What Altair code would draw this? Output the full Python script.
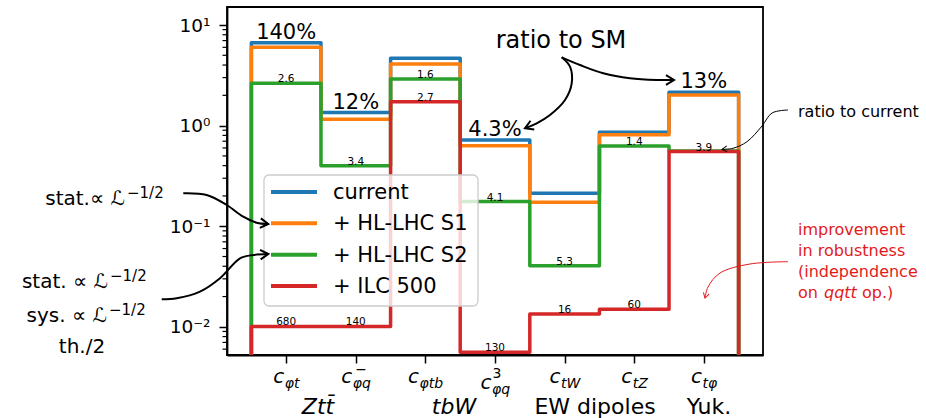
import math
import altair as alt
import pandas as pd

# ---------------- data ----------------
categories = ["c_phi_t", "c_phi_q_minus", "c_phi_tb", "c_phi_q3", "c_tW", "c_tZ", "c_t_phi"]
series_names = ["current", "+ HL-LHC S1", "+ HL-LHC S2", "+ ILC 500"]
current = [6.67, 1.35, 4.67, 0.72, 0.213, 0.86, 2.15]
hl_lhc_s1 = [6.0, 1.16, 4.10, 0.63, 0.173, 0.81, 2.02]
hl_lhc_s2 = [2.64, 0.40, 2.91, 0.176, 0.0404, 0.629, 0.56]
ilc_500 = [0.0101, 0.0101, 1.73, 0.0056, 0.0134, 0.0150, 0.552]
ratio_to_sm = ["140%", "12%", "", "4.3%", "", "", "13%"]
ratio_s2 = ["2.6", "3.4", "1.6", "4.1", "5.3", "1.4", ""]
ratio_ilc = ["680", "140", "2.7", "130", "16", "60", "3.9"]
tick_sub = ["φt", "φq", "φtb", "φq", "tW", "tZ", "tφ"]
tick_sup = ["", "−", "", "3", "", "", ""]
group_labels = ["Ztt̄", "tbW", "EW dipoles", "Yuk."]
y_major = [0.01, 0.1, 1, 10]
y_major_labels = ["10⁻²", "10⁻¹", "10⁰", "10¹"]
colors = ["#1f77b4", "#ff7f0e", "#2ca02c", "#d62728"]

# ---------------- layout ----------------
W, H = 536, 348
PL, PT = 227, 7
XMIN, XMAX = -0.85, 6.85
YMIN, YMAX = 0.00525, 15.1
LMIN, LMAX = math.log10(YMIN), math.log10(YMAX)
PXU = W / (XMAX - XMIN)
FONT = "DejaVu Sans"


def px2x(px):
    return XMIN + (px - PL) / PXU


def py2y(py):
    return 10 ** (LMAX - (py - PT) / H * (LMAX - LMIN))


xs = alt.Scale(domain=[XMIN, XMAX], nice=False, zero=False)
ys = alt.Scale(type="log", domain=[YMIN, YMAX], nice=False)

label_expr = " : ".join(
    f"abs(datum.value - {v}) < {v * 1e-6} ? '{t}'" for v, t in zip(y_major, y_major_labels)
) + " : ''"

yaxis = alt.Axis(values=y_major, labelExpr=label_expr, tickSize=8, tickWidth=1.5,
                 tickColor="black", domainColor="black", domainWidth=1.8, grid=False,
                 labelFont=FONT, labelFontSize=18.5, labelColor="black", labelPadding=9,
                 title=None)
xaxis = alt.Axis(values=list(range(len(categories))), labels=False, tickSize=8,
                 tickWidth=1.5, tickColor="black", domainColor="black", domainWidth=1.8,
                 grid=False, title=None)


def X():
    return alt.X("x:Q", scale=xs, axis=xaxis, title=None)


def Y():
    return alt.Y("y:Q", scale=ys, axis=yaxis, title=None)


layers = []

# ---------------- step lines ----------------
BOT = 1e-3
all_series = [current, hl_lhc_s1, hl_lhc_s2, ilc_500]
for name, vals, col in zip(series_names, all_series, colors):
    px_, py_ = [-0.5], [BOT]
    for i, v in enumerate(vals):
        px_ += [i - 0.5, i + 0.5]
        py_ += [v, v]
    px_.append(len(vals) - 0.5)
    py_.append(BOT)
    df = pd.DataFrame({"x": px_, "y": py_, "k": range(len(px_))})
    layers.append(alt.Chart(df).mark_line(color=col, strokeWidth=3.5, clip=True,
                                          strokeJoin="round", strokeCap="square")
                  .encode(x=X(), y=Y(), order="k:Q"))

# minor ticks on the log axis
minor = [m * 10 ** e for e in range(-3, 2) for m in range(2, 10) if YMIN <= m * 10 ** e <= YMAX]
layers.append(alt.Chart(pd.DataFrame({"y": minor})).mark_rule(color="black", strokeWidth=1.2)
              .encode(x=alt.value(-4.5), x2=alt.value(0), y=Y()))

# ---------------- ratio labels on lines ----------------
rl = pd.DataFrame({
    "x": [i for i in range(7) if ratio_s2[i]] + list(range(7)),
    "y": [hl_lhc_s2[i] for i in range(7) if ratio_s2[i]] + ilc_500,
    "t": [r for r in ratio_s2 if r] + ratio_ilc,
})
layers.append(alt.Chart(rl).mark_text(font=FONT, fontSize=10.5, baseline="alphabetic",
                                      dy=-1, color="black").encode(x=X(), y=Y(), text="t:N"))

sm = pd.DataFrame({"x": [i for i in range(7) if ratio_to_sm[i]],
                   "y": [current[i] for i in range(7) if ratio_to_sm[i]],
                   "t": [r for r in ratio_to_sm if r]})
layers.append(alt.Chart(sm).mark_text(font=FONT, fontSize=21, baseline="alphabetic",
                                      dy=-4, color="black").encode(x=X(), y=Y(), text="t:N"))

# ---------------- legend (drawn by hand) ----------------
box = pd.DataFrame({"a": [0]})
layers.append(alt.Chart(box).mark_rect(fill="white", fillOpacity=0.8, stroke="#cccccc",
                                       strokeWidth=1.3, cornerRadius=5)
              .encode(x=alt.value(264 - PL), x2=alt.value(478 - PL),
                      y=alt.value(175 - PT), y2=alt.value(306 - PT)))
row_py = [192, 223.3, 254.7, 286]
leg = pd.DataFrame({"s": series_names, "y": [py2y(p) for p in row_py],
                    "x": [px2x(333)] * 4})
cscale = alt.Scale(domain=series_names, range=colors)
layers.append(alt.Chart(leg).mark_rule(strokeWidth=4)
              .encode(x=alt.value(271 - PL), x2=alt.value(317 - PL), y=Y(),
                      color=alt.Color("s:N", scale=cscale, legend=None)))
layers.append(alt.Chart(leg).mark_text(font=FONT, fontSize=21, align="left", baseline="middle",
                                       dy=1, color="black")
              .encode(x=X(), y=Y(), text="s:N"))

# ---------------- x tick labels ----------------
cw = 11.2
wid = {"φ": 0.68, "t": 0.392, "q": 0.635, "b": 0.635, "W": 0.989, "Z": 0.685, "−": 0.838, "3": 0.636}
c_rows, sub_rows, sup_rows = [], [], []
for i, (sb, sp) in enumerate(zip(tick_sub, tick_sup)):
    sw = sum(wid[ch] for ch in sb) * 14
    spw = sum(wid[ch] for ch in sp) * 14
    total = cw + max(sw, spw * 0.6)
    split = -total / 2 + cw
    shift = 6 if sp == "3" else 0
    c_rows.append({"x": i + split / PXU, "y": py2y(383 + shift), "t": "c"})
    sub_rows.append({"x": i + (split + 0.5) / PXU, "y": py2y(388 + shift), "t": sb})
    if sp == "−":
        sup_rows.append({"x": i + (split + 3) / PXU, "y": py2y(374), "t": sp})
    elif sp:
        sup_rows.append({"x": i + (split + 1) / PXU, "y": py2y(378), "t": sp})
layers.append(alt.Chart(pd.DataFrame(c_rows)).mark_text(
    font=FONT, fontSize=20, fontStyle="italic", align="right", baseline="alphabetic",
    color="black").encode(x=X(), y=Y(), text="t:N"))
layers.append(alt.Chart(pd.DataFrame(sub_rows)).mark_text(
    font=FONT, fontSize=14, fontStyle="italic", align="left", baseline="alphabetic",
    color="black").encode(x=X(), y=Y(), text="t:N"))
layers.append(alt.Chart(pd.DataFrame(sup_rows)).mark_text(
    font=FONT, fontSize=14, align="left", baseline="alphabetic",
    color="black").encode(x=X(), y=Y(), text="t:N"))

grp_px = [318, 454, 595, 709]
grp_italic = [True, True, False, False]
for lab, gx, it in zip(group_labels, grp_px, grp_italic):
    d = pd.DataFrame({"x": [px2x(gx)], "y": [py2y(414)], "t": [lab]})
    layers.append(alt.Chart(d).mark_text(font=FONT, fontSize=22, align="center",
                                         baseline="alphabetic", color="black",
                                         fontStyle="italic" if it else "normal")
                  .encode(x=X(), y=Y(), text="t:N"))

# ---------------- annotations ----------------
def txt(rows, size, align="left", color="black", style="normal"):
    d = pd.DataFrame([{"x": px2x(a), "y": py2y(b), "t": t} for a, b, t in rows])
    return alt.Chart(d).mark_text(font=FONT, fontSize=size, align=align,
                                  baseline="alphabetic", color=color, fontStyle=style) \
        .encode(x=X(), y=Y(), text="t:N")


layers.append(txt([(125, 205, "stat.∝ ℒ"), (108, 288, "stat. ∝ ℒ"),
                   (107, 322, "sys. ∝ ℒ")], 20, align="right"))
layers.append(txt([(127, 198, "−1/2"), (110, 281, "−1/2"), (109, 315, "−1/2")], 15))
layers.append(txt([(82, 353, "th./2")], 20, align="center"))
layers.append(txt([(561, 48, "ratio to SM")], 24, align="center"))
layers.append(txt([(798, 117, "ratio to current")], 16))
RED = "#e31a1c"
layers.append(txt([(798, 235, "improvement"), (798, 256, "in robustness"),
                   (798, 277, "(independence"), (798, 298, "on")], 16, color=RED))
layers.append(txt([(824, 298, "qqtt")], 16, color=RED, style="italic"))
layers.append(txt([(862, 298, "op.)")], 16, color=RED))

arrows = [
    ("sm1", "k", 2.0, 157, [(561.7, 57.3), (570, 66.7), (571.7, 83.3), (565, 100), (550, 115),
                            (536.7, 123.3), (525, 128.3)]),
    ("sm2", "k", 2.0, 0, [(561.7, 57.3), (580, 65), (603.3, 73.3), (630, 78.3), (656.7, 80),
                          (674, 80)]),
    ("l1", "k", 2.0, 6, [(183.3, 193.3), (206.7, 195), (226.7, 205), (243.3, 216.7),
                         (256.7, 222.7), (268.3, 224)]),
    ("l2", "k", 2.0, 356, [(161.7, 299.3), (176.7, 298.3), (200, 291.7), (220, 278.3),
                           (240, 258.3), (253.3, 255), (268.3, 254)]),
    ("cur", "k", 1.0, 175, [(788, 110), (772, 113), (762, 126), (747, 141.7), (733, 148.3),
                            (722, 149.3)]),
    ("red", "r", 1.0, 105, [(788, 261.7), (750, 264), (720, 273), (708, 287), (705, 298)]),
]
for aid, c, lw, ang, pts in arrows:
    col = RED if c == "r" else "black"
    d = pd.DataFrame({"x": [px2x(a) for a, b in pts], "y": [py2y(b) for a, b in pts],
                      "k": range(len(pts))})
    layers.append(alt.Chart(d).mark_line(color=col, strokeWidth=lw, interpolate="catmull-rom")
                  .encode(x=X(), y=Y(), order="k:Q"))
    hd = pd.DataFrame({"x": [px2x(pts[-1][0])], "y": [py2y(pts[-1][1])]})
    layers.append(alt.Chart(hd).mark_point(shape="M -1 -0.6 L 0 0 L -1 0.6", filled=False,
                                           color=col, strokeWidth=lw, opacity=1,
                                           size=256 if lw > 1.5 else 100, angle=ang)
                  .encode(x=X(), y=Y()))

chart = alt.layer(*layers).properties(
    width=W, height=H,
    padding={"left": PL, "top": PT, "right": 926 - PL - W, "bottom": 418 - PT - H},
    autosize=alt.AutoSizeParams(type="none"),
    background="white",
).configure_view(stroke="black", strokeWidth=1.8)

chart.save("out.html", embed_options={"renderer": "svg", "actions": False})
